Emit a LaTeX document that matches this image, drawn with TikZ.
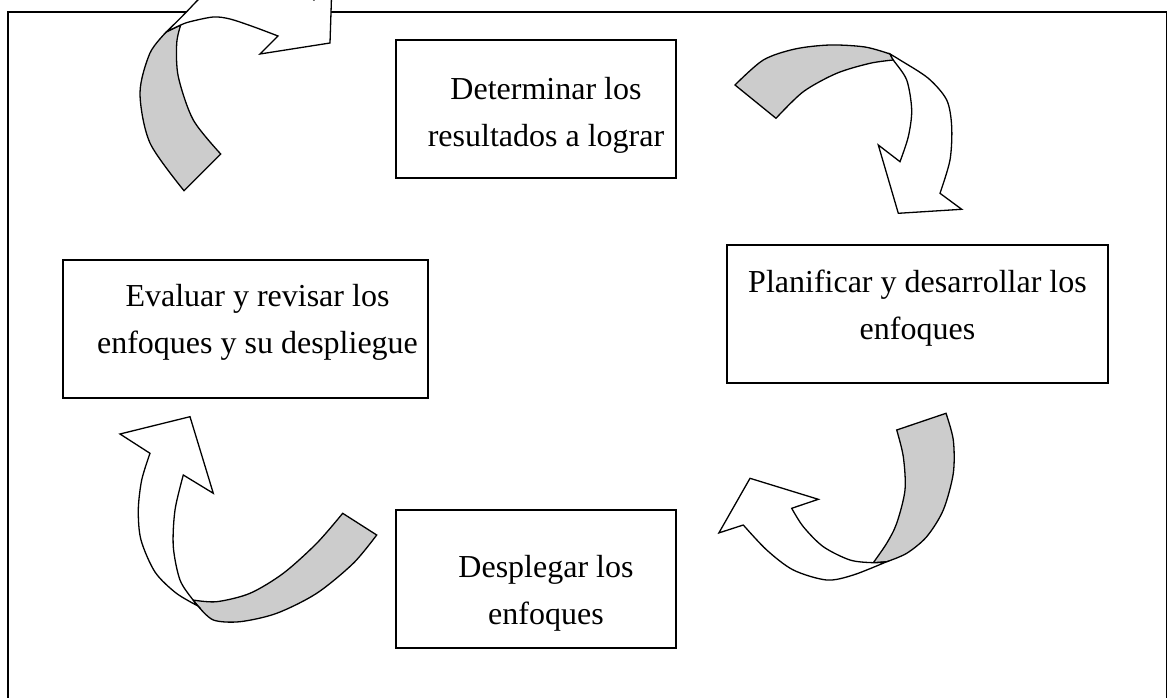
\documentclass[tikz,border=0pt]{standalone}
\usepackage{fontspec}
\setmainfont{Liberation Serif}
\definecolor{ribbon}{RGB}{204,204,204}
\begin{document}
\begin{tikzpicture}[x=1pt,y=-1pt,
  frame/.style={line width=1.8pt},
  stepbox/.style={draw,line width=1.8pt,fill=white,minimum height=138pt,inner sep=0pt},
  steptext/.style={align=center,inner sep=0pt,anchor=north,
    font=\fontsize{32}{47}\selectfont},
  backface/.style={draw,fill=ribbon,line width=1.3pt,line join=miter},
  frontface/.style={draw,fill=white,line width=1.3pt,line join=miter}]
\path[use as bounding box] (0,0) rectangle (1168,698);
\clip (0,0) rectangle (1168,698);

% open frame
\draw[frame] (8,700) -- (8,12.3) -- (1166.5,12.3) -- (1166.5,700);

% the four steps
\node[stepbox,minimum width=280pt] (det) at (536,109) {};
\node[steptext] (detT) at ([xshift=10pt,yshift=-38pt]det.north) {Determinar los\\resultados a lograr};

\node[stepbox,minimum width=381pt] (plan) at (917.5,314) {};
\node[steptext] (planT) at ([yshift=-26pt]plan.north) {Planificar y desarrollar los\\enfoques};

\node[stepbox,minimum width=280pt] (despl) at (536,579) {};
\node[steptext] (desplT) at ([xshift=10pt,yshift=-46pt]despl.north) {Desplegar los\\enfoques};

\node[stepbox,minimum width=365pt] (eval) at (245.5,329) {};
\node[steptext] (evalT) at ([xshift=12pt,yshift=-25pt]eval.north) {Evaluar y revisar los\\enfoques y su despliegue};

% curved arrow, upper left
\path[backface] plot[smooth] coordinates {(184,190.7) (150,143) (140,93) (150,53) (166.7,31.7)}
  -- (180.7,25)
  -- plot[smooth] coordinates {(180.7,25) (176.7,43.3) (178.3,76.7) (193.3,120) (220.7,154)}
  -- cycle;
\path[frontface] plot[smooth] coordinates {(166.7,31.7) (186.7,11.7) (200,-2) (218,-16) (240,-23) (262,-23) (284,-17) (300,-9) (314,0)}
  -- (332,-18) -- (330,43) -- (260,54) -- (278,36)
  -- plot[smooth] coordinates {(278,36) (253.3,26.7) (230,19) (213.3,17) (190,21.7) (180.7,25) (166.7,31.7)}
  -- cycle;

% curved arrow, upper right
\path[backface] plot[smooth] coordinates {(735,85) (763.3,60) (795,49) (830,45) (865,47) (890,54)}
  -- (893.3,60)
  -- plot[smooth] coordinates {(893.3,60) (870,63.3) (836.7,73.3) (803.3,91.7) (776,118.3)}
  -- cycle;
\path[frontface] plot[smooth] coordinates {(890,54) (900,60) (928.3,78.3) (946.7,100) (951.7,126.7) (950,160) (940,193.3)}
  -- (961.7,209.3) -- (898.3,213.3) -- (878.3,145) -- (900,161.7)
  -- plot[smooth] coordinates {(900,161.7) (908.3,136.7) (911.7,110) (906.7,80) (893.3,60) (890,54)}
  -- cycle;

% curved arrow, lower right
\path[backface] plot[smooth] coordinates {(946,413.3) (953.3,440) (953.3,473.3) (943.3,510) (926.7,536.7) (906.7,553.3) (886.7,561.7)}
  -- (873.3,562.7)
  -- plot[smooth] coordinates {(873.3,562.7) (886.7,543.3) (896.7,523.3) (905,490) (903.3,456.7) (896.7,430)}
  -- cycle;
\path[frontface] plot[smooth] coordinates {(886.7,561.7) (853.3,575) (826.7,580) (793.3,570) (766.7,550) (743.3,525)}
  -- (718.9,532.9) -- (750,478.3) -- (818.3,499.3) -- (791.7,508.3)
  -- plot[smooth] coordinates {(791.7,508.3) (803.3,526.7) (823.3,546.7) (850,560) (873.3,562.7) (886.7,561.7)}
  -- cycle;

% curved arrow, lower left
\path[backface] plot[smooth] coordinates {(342.7,513.3) (316.7,543.3) (283.3,573.3) (250,593.3) (216.7,601.7) (193,600)}
  -- (198,606)
  -- plot[smooth] coordinates {(198,606) (213.3,620) (240,621.7) (276.7,613.3) (316.7,593.3) (353.3,563.3) (376.7,535)}
  -- cycle;
\path[frontface] plot[smooth] coordinates {(198,606) (176,593) (155,572) (141,540) (138.3,510) (141.7,480) (150,453.3)}
  -- (120,434) -- (190,416.7) -- (213.3,493.3) -- (183.3,475)
  -- plot[smooth] coordinates {(183.3,475) (175,510) (173.3,546.7) (180,580) (193,600) (198,606)}
  -- cycle;
\end{tikzpicture}
\end{document}
